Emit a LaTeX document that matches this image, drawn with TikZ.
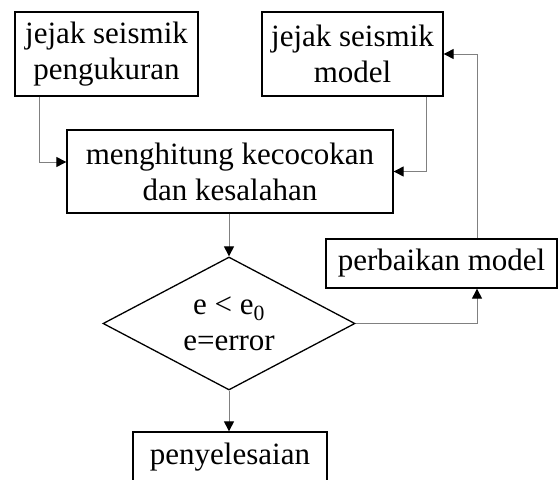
\documentclass[tikz,border=0pt]{standalone}
\usepackage{fontspec}
\setmainfont{Liberation Serif}
\usetikzlibrary{shapes.geometric, arrows.meta}

\tikzset{
    kotak/.style={draw=black, line width=1.3pt, align=center, inner sep=0pt, font=\fontsize{31}{36}\selectfont},
    alur/.style={draw=gray, line width=1pt, -{Triangle[color=black, length=10pt, width=10pt]}},
}

\begin{document}
\begin{tikzpicture}[x=1pt, y=-1pt]
        \useasboundingbox (0,0) rectangle (559,479);

        \node[kotak, minimum width=183pt, minimum height=84pt] (ukur) at (106.5,54) {jejak seismik\\pengukuran};
        \node[kotak, minimum width=181pt, minimum height=84pt] (model) at (352.5,54) {jejak seismik\\model};
        \node[kotak, minimum width=326pt, minimum height=83pt] (hitung) at (230,171.5) {menghitung kecocokan\\dan kesalahan};
        \node[kotak, diamond, aspect=1.9, minimum width=252pt, minimum height=133pt] (cek) at (229,323.5) {e < e\textsubscript{0}\\e=error};
        \node[kotak, minimum width=231pt, minimum height=49pt] (baiki) at (441.5,263.5) {perbaikan model};
        \node[kotak, minimum width=194pt, minimum height=50pt] (selesai) at (230,457) {penyelesaian};

        \draw[alur] ([xshift=-67.5pt]ukur.south) |- ([yshift=9.5pt]hitung.west);
        \draw[alur] ([xshift=73.5pt]model.south) |- (hitung.east);
        \draw[alur] (hitung.south -| cek.north) -- (cek.north);
        \draw[alur] (cek.south) -- (selesai.north -| cek.south);
        \draw[alur] (cek.east) -| ([xshift=35.5pt]baiki.south);
        \draw[alur] ([xshift=35.5pt]baiki.north) |- (model.east);

    \end{tikzpicture}
\end{document}
